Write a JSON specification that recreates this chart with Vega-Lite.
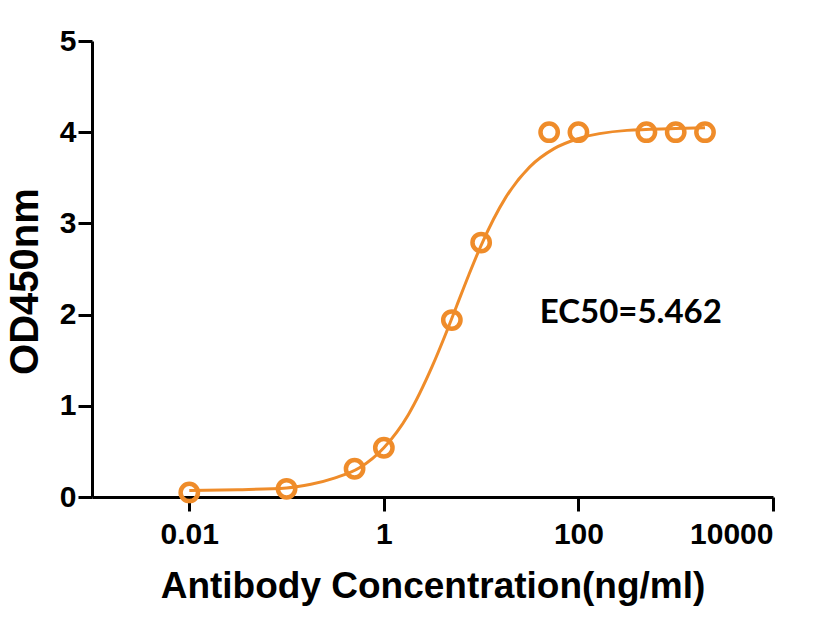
{
  "$schema": "https://vega.github.io/schema/vega-lite/v6.json",
  "description": "Antibody concentration vs OD450nm, 4PL fit",
  "autosize": {"type": "none"},
  "padding": {"left": 92, "top": 41, "right": 63, "bottom": 137},
  "width": 681,
  "height": 456,
  "background": "white",
  "config": {
    "view": {"stroke": null},
    "font": "Liberation Sans",
    "axis": {
      "grid": false,
      "domainColor": "black",
      "domainWidth": 3,
      "tickColor": "black",
      "tickWidth": 3,
      "tickSize": 14,
      "labelFont": "Liberation Sans",
      "labelFontWeight": "bold",
      "labelFontSize": 30,
      "labelColor": "black",
      "titleFont": "Liberation Sans",
      "titleFontWeight": "bold",
      "titleColor": "black"
    }
  },
  "datasets": {
    "points": [
      {"conc": 0.01, "od": 0.05},
      {"conc": 0.1, "od": 0.09},
      {"conc": 0.5, "od": 0.31},
      {"conc": 1, "od": 0.54},
      {"conc": 5, "od": 1.94},
      {"conc": 10, "od": 2.79},
      {"conc": 50, "od": 4.0},
      {"conc": 100, "od": 4.0},
      {"conc": 500, "od": 4.0},
      {"conc": 1000, "od": 4.0},
      {"conc": 2000, "od": 4.0}
    ],
    "curve": [
      {"conc": 0.01, "od": 0.07},
      {"conc": 0.0316, "od": 0.08},
      {"conc": 0.1, "od": 0.1},
      {"conc": 0.178, "od": 0.14},
      {"conc": 0.316, "od": 0.21},
      {"conc": 0.562, "od": 0.32},
      {"conc": 1, "od": 0.54},
      {"conc": 1.778, "od": 0.9},
      {"conc": 3.162, "od": 1.44},
      {"conc": 4.217, "od": 1.76},
      {"conc": 5.623, "od": 2.1},
      {"conc": 7.499, "od": 2.44},
      {"conc": 10, "od": 2.76},
      {"conc": 17.78, "od": 3.28},
      {"conc": 31.62, "od": 3.62},
      {"conc": 56.23, "od": 3.82},
      {"conc": 100, "od": 3.93},
      {"conc": 316.2, "od": 4.02},
      {"conc": 1000, "od": 4.04},
      {"conc": 2000, "od": 4.05}
    ],
    "note": [
      {"conc": 40, "od": 1.91, "label": "EC50=5.462"}
    ]
  },
  "layer": [
    {
      "data": {"name": "curve"},
      "mark": {"type": "line", "color": "#EF8C2A", "strokeWidth": 3, "interpolate": "monotone"},
      "encoding": {
        "x": {
          "field": "conc",
          "type": "quantitative",
          "scale": {"type": "log", "domain": [0.001, 10000], "nice": false},
          "axis": {
            "values": [0.01, 1, 100, 10000],
            "format": "~g",
            "labelPadding": 8,
            "title": "Antibody Concentration(ng/ml)",
            "titleFontSize": 37,
            "titleBaseline": "alphabetic",
            "titleY": 100
          }
        },
        "y": {
          "field": "od",
          "type": "quantitative",
          "scale": {"domain": [0, 5], "nice": false},
          "axis": {
            "values": [0, 1, 2, 3, 4, 5],
            "format": "d",
            "labelPadding": 2,
            "title": "OD450nm",
            "titleFontSize": 40,
            "titlePadding": 14,
            "titleY": 240
          }
        }
      }
    },
    {
      "data": {"name": "points"},
      "mark": {"type": "point", "shape": "circle", "filled": false, "color": "#EF8C2A", "strokeWidth": 4.5, "size": 300, "opacity": 1, "clip": false},
      "encoding": {
        "x": {"field": "conc", "type": "quantitative"},
        "y": {"field": "od", "type": "quantitative"}
      }
    },
    {
      "data": {"name": "note"},
      "mark": {"type": "text", "font": "Lato", "fontWeight": "bold", "fontSize": 33, "color": "black", "align": "left", "baseline": "alphabetic"},
      "encoding": {
        "x": {"field": "conc", "type": "quantitative"},
        "y": {"field": "od", "type": "quantitative"},
        "text": {"field": "label"}
      }
    }
  ]
}
